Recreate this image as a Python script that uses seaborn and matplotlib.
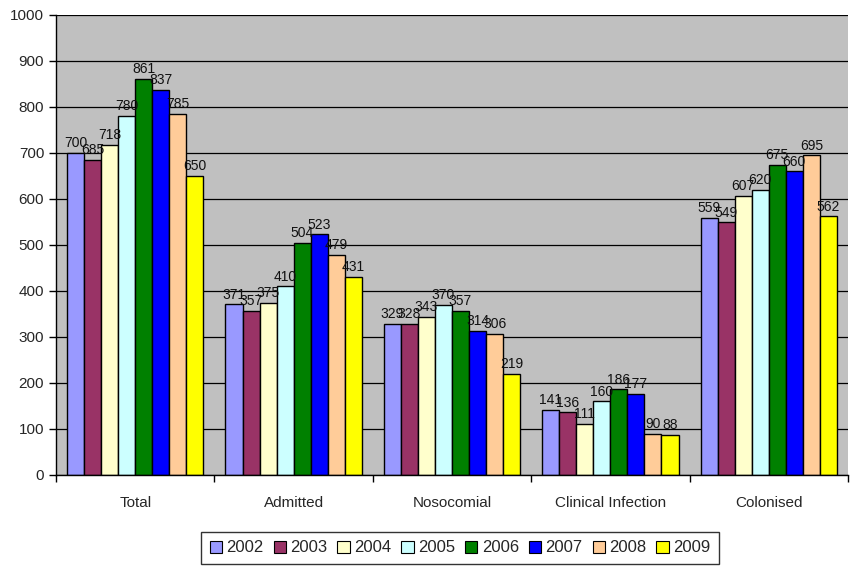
import matplotlib
matplotlib.use("Agg")
import matplotlib.pyplot as plt
import seaborn as sns
import pandas as pd
from matplotlib.patches import Patch

categories = ["Total", "Admitted", "Nosocomial", "Clinical Infection", "Colonised"]
years = ["2002", "2003", "2004", "2005", "2006", "2007", "2008", "2009"]
v2002 = [700, 371, 329, 141, 559]
v2003 = [685, 357, 328, 136, 549]
v2004 = [718, 375, 343, 111, 607]
v2005 = [780, 410, 370, 160, 620]
v2006 = [861, 504, 357, 186, 675]
v2007 = [837, 523, 314, 177, 660]
v2008 = [785, 479, 306, 90, 695]
v2009 = [650, 431, 219, 88, 562]
series = [v2002, v2003, v2004, v2005, v2006, v2007, v2008, v2009]
colors = ["#9999FF", "#993366", "#FFFFCC", "#CCFFFF", "#008000", "#0000FF", "#FFCC99", "#FFFF00"]

rows = []
for yr, vals in zip(years, series):
    for cat, v in zip(categories, vals):
        rows.append({"category": cat, "year": yr, "value": v})
df = pd.DataFrame(rows)

sns.set_style("white")
plt.rcParams["font.family"] = ["Liberation Sans", "DejaVu Sans"]

fig = plt.figure(figsize=(8.5, 5.66), dpi=100)
ax = fig.add_axes([56 / 850, 91 / 566, 792 / 850, 460 / 566])
ax.set_facecolor("#C0C0C0")

sns.barplot(data=df, x="category", y="value", hue="year", order=categories,
            hue_order=years, palette=colors, width=0.86, edgecolor="black",
            linewidth=1.0, saturation=1, ax=ax, legend=False)

for container in ax.containers:
    ax.bar_label(container, fmt="%d", padding=2, fontsize=10, color="#111111")

ax.set_ylim(0, 1000)
ax.set_xlim(-0.5, len(categories) - 0.5)
ax.set_yticks(range(0, 1001, 100))
ax.yaxis.grid(True, color="black", linewidth=0.9)
ax.set_axisbelow(True)
ax.set_xlabel("")
ax.set_ylabel("")

for s in ["top", "right"]:
    ax.spines[s].set_visible(False)
for s in ["left", "bottom"]:
    ax.spines[s].set_color("black")
    ax.spines[s].set_linewidth(1.0)

ax.tick_params(axis="y", which="major", direction="out", length=5, width=1,
               color="black", labelsize=11, left=True)
ax.tick_params(axis="x", which="major", length=0, labelsize=11, pad=15)
ax.set_xticks([i + 0.5 for i in range(-1, len(categories))], minor=True)
ax.tick_params(axis="x", which="minor", direction="out", length=5, width=1,
               color="black", bottom=True)

handles = [Patch(facecolor=c, edgecolor="black", linewidth=0.8) for c in colors]
leg = fig.legend(handles, years, loc="center", bbox_to_anchor=(460 / 850, 1 - 548 / 566),
                 ncol=8, frameon=True, fancybox=False, fontsize=12,
                 handlelength=0.75, handleheight=0.75, handletextpad=0.25,
                 columnspacing=0.6, borderpad=0.5, borderaxespad=0)
leg.get_frame().set_edgecolor("black")
leg.get_frame().set_linewidth(1.0)

fig.savefig("out.png", dpi=100, facecolor="white")
